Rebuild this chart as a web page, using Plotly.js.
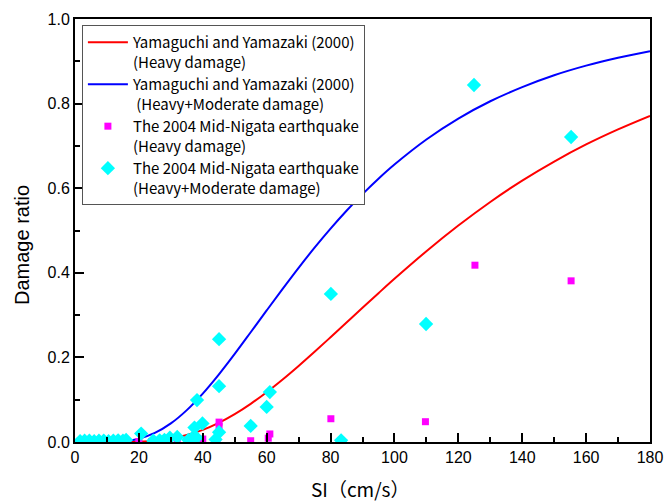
<!DOCTYPE html>
<html>
<head>
<meta charset="utf-8">
<script src="https://cdn.plot.ly/plotly-3.0.1.min.js"></script>
<style>html,body{margin:0;padding:0;background:#fff;}#chart{width:672px;height:502px;}</style>
</head>
<body>
<div id="chart"></div>
<script>
// Curve sample points
const curveSI = [0, 5, 10, 15, 20, 25, 30, 35, 40, 45, 50, 55, 60, 65, 70, 75, 80, 85, 90, 95, 100, 110, 120, 130, 140, 150, 160, 170, 180];
const heavyCurve = [0, 0, 0, 0.0001, 0.0009, 0.0032, 0.0081, 0.0165, 0.0288, 0.0454, 0.066, 0.0903, 0.1177, 0.1478, 0.1798, 0.2133, 0.2477, 0.2825, 0.3173, 0.3518, 0.3858, 0.451, 0.5117, 0.5675, 0.618, 0.663, 0.7034, 0.739, 0.771];
const heavyModCurve = [0, 0, 0.0001, 0.0018, 0.0078, 0.0214, 0.0439, 0.0754, 0.1145, 0.1594, 0.2083, 0.2594, 0.311, 0.362, 0.4118, 0.4594, 0.5044, 0.5466, 0.586, 0.6225, 0.656, 0.7152, 0.7646, 0.8055, 0.839, 0.867, 0.8897, 0.9084, 0.924];

// Observed points, 2004 Mid-Niigata earthquake
const heavySI = [2, 4, 7, 10, 13, 16, 20, 24, 28, 32, 35, 38, 40, 44.4, 45.1, 45.1, 55, 60.5, 61, 80.1, 109.7, 125.2, 155.3];
const heavyRatio = [0.001, 0.001, 0.001, 0.001, 0.001, 0.001, 0.001, 0.001, 0.001, 0.001, 0.002, 0.002, 0.007, 0.007, 0.047, 0.037, 0.003, 0.009, 0.019, 0.055, 0.048, 0.418, 0.381];

const hmSI = [1.6, 3, 4.5, 6, 7.5, 9, 10.5, 12, 13.5, 15, 16, 20.7, 24.5, 26.5, 28, 29.7, 32, 35.5, 36.5, 37.4, 38, 38.2, 39.9, 44, 45.1, 45.1, 45.1, 55, 60, 61, 80.1, 83.3, 109.9, 124.9, 155.3];
const hmRatio = [0.002, 0.003, 0.003, 0.002, 0.003, 0.003, 0.002, 0.003, 0.004, 0.003, 0.005, 0.02, 0.003, 0.004, 0.005, 0.01, 0.012, 0.005, 0.008, 0.034, 0.01, 0.099, 0.044, 0.006, 0.023, 0.132, 0.243, 0.038, 0.083, 0.118, 0.35, 0.004, 0.279, 0.844, 0.721];

const legendNames = [
  "Yamaguchi and Yamazaki (2000)<br>(Heavy damage)",
  "Yamaguchi and Yamazaki (2000)<br> (Heavy+Moderate damage)",
  "The 2004 Mid-Nigata earthquake<br>(Heavy damage)",
  "The 2004 Mid-Nigata earthquake<br>(Heavy+Moderate damage)"
];
const xTitle = 'SI（cm/s）';
const yTitle = 'Damage ratio';

const traces = [
  {x: curveSI, y: heavyCurve, type: 'scatter', mode: 'lines', name: legendNames[0],
   line: {color: '#ff0000', width: 2, shape: 'spline'}},
  {x: curveSI, y: heavyModCurve, type: 'scatter', mode: 'lines', name: legendNames[1],
   line: {color: '#0000ff', width: 2, shape: 'spline'}},
  {x: heavySI, y: heavyRatio, type: 'scatter', mode: 'markers', name: legendNames[2],
   marker: {symbol: 'square', color: '#ff00ff', size: 7}},
  {x: hmSI, y: hmRatio, type: 'scatter', mode: 'markers', name: legendNames[3],
   marker: {symbol: 'diamond', color: '#00ffff', size: 11}}
];

const tickFont = {family: 'Liberation Sans, Arial, sans-serif', size: 16, color: '#000'};

const layout = {
  width: 672, height: 502,
  margin: {l: 75, r: 22, t: 19, b: 60},
  paper_bgcolor: '#fff', plot_bgcolor: '#fff',
  showlegend: true,
  legend: {
    x: 0.012, y: 0.986, xanchor: 'left', yanchor: 'top',
    bgcolor: '#fff', bordercolor: '#555', borderwidth: 1,
    font: {family: 'Noto Sans CJK JP, sans-serif', size: 15, color: '#000'},
    valign: 'top', tracegroupgap: 0, itemwidth: 40
  },
  xaxis: {
    range: [0, 180], dtick: 20, tick0: 0,
    ticks: 'inside', ticklen: 9, tickwidth: 2, tickcolor: '#000',
    minor: {dtick: 10, ticks: 'inside', ticklen: 5, tickwidth: 2, tickcolor: '#000'},
    showline: true, linecolor: '#000', linewidth: 2, mirror: true,
    showgrid: false, zeroline: false,
    tickfont: tickFont
  },
  yaxis: {
    range: [0, 1.0], dtick: 0.2, tick0: 0, tickformat: '.1f',
    ticks: 'inside', ticklen: 9, tickwidth: 2, tickcolor: '#000',
    minor: {dtick: 0.1, ticks: 'inside', ticklen: 5, tickwidth: 2, tickcolor: '#000'},
    showline: true, linecolor: '#000', linewidth: 2, mirror: true,
    showgrid: false, zeroline: false,
    tickfont: tickFont
  },
  annotations: [
    {text: xTitle, xref: 'paper', yref: 'paper', x: 0.497, y: -0.111,
     xanchor: 'center', yanchor: 'middle', showarrow: false,
     font: {family: 'Noto Sans CJK JP, sans-serif', size: 19, color: '#000'}},
    {text: yTitle, xref: 'paper', yref: 'paper', x: -0.092, y: 0.466,
     xanchor: 'center', yanchor: 'middle', showarrow: false, textangle: -90,
     font: {family: 'Liberation Sans, Arial, sans-serif', size: 20, color: '#000'}}
  ]
};

Plotly.newPlot('chart', traces, layout, {displayModeBar: false, staticPlot: true});
</script>
</body>
</html>
